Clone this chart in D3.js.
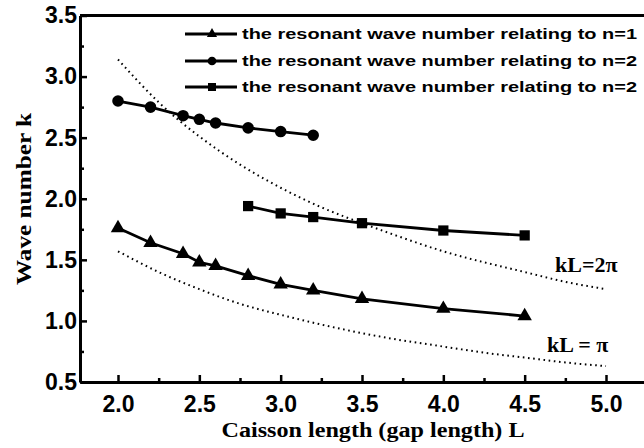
<!DOCTYPE html>
<html>
<head>
<meta charset="utf-8">
<script src="https://cdn.jsdelivr.net/npm/d3@7"></script>
<style>
  body { margin: 0; background: #fff; }
</style>
</head>
<body>
<div id="chart"></div>
<script>
// data
var lenN1 = [2.0, 2.2, 2.4, 2.5, 2.6, 2.8, 3.0, 3.2, 3.5, 4.0, 4.5];
var kN1   = [1.76, 1.64, 1.55, 1.48, 1.45, 1.37, 1.30, 1.25, 1.18, 1.10, 1.04];

var lenN2a = [2.0, 2.2, 2.4, 2.5, 2.6, 2.8, 3.0, 3.2];
var kN2a   = [2.80, 2.75, 2.68, 2.65, 2.62, 2.58, 2.55, 2.52];

var lenN2b = [2.8, 3.0, 3.2, 3.5, 4.0, 4.5];
var kN2b   = [1.94, 1.88, 1.85, 1.80, 1.74, 1.70];

// reference curves kL = 2pi and kL = pi
var lenRef = [2.0, 2.25, 2.5, 2.75, 3.0, 3.25, 3.5, 3.75, 4.0, 4.25, 4.5, 4.75, 5.0];
var k2pi   = [3.14, 2.79, 2.51, 2.28, 2.09, 1.93, 1.80, 1.68, 1.57, 1.48, 1.40, 1.32, 1.26];
var kpi    = [1.57, 1.40, 1.26, 1.14, 1.05, 0.97, 0.90, 0.84, 0.79, 0.74, 0.70, 0.66, 0.63];

var xTicks = [2.0, 2.5, 3.0, 3.5, 4.0, 4.5, 5.0];
var xMinor = [2.25, 2.75, 3.25, 3.75, 4.25, 4.75];
var yTicks = [0.5, 1.0, 1.5, 2.0, 2.5, 3.0, 3.5];
var yMinor = [0.75, 1.25, 1.75, 2.25, 2.75, 3.25];

var legendLabels = [
  "the resonant wave number relating to n=1",
  "the resonant wave number relating to n=2",
  "the resonant wave number relating to n=2"
];

var width = 644, height = 448;
var margin = {left: 80, top: 15.5, bottom: 382, right: 644};

var svg = d3.select("#chart")
  .append("svg")
    .attr("width", width)
    .attr("height", height);

var x = d3.scaleLinear().domain([1.7664, 5.2336]).range([margin.left, margin.right]);
var y = d3.scaleLinear().domain([0.5, 3.5]).range([margin.bottom, margin.top]);

var sans = "'Liberation Sans', Arial, sans-serif";
var serif = "'Liberation Serif', 'Times New Roman', serif";

// x axis
svg.append("g")
  .attr("transform", "translate(0," + margin.bottom + ")")
  .call(d3.axisBottom(x).tickValues(xTicks).tickSize(-7).tickSizeOuter(0)
        .tickPadding(14).tickFormat(d3.format(".1f")));
svg.append("g")
  .attr("transform", "translate(0," + margin.bottom + ")")
  .call(d3.axisBottom(x).tickValues(xMinor).tickSize(-4).tickSizeOuter(0).tickFormat(""))
  .select(".domain").remove();

// y axis
svg.append("g")
  .attr("transform", "translate(" + margin.left + ",0)")
  .call(d3.axisLeft(y).tickValues(yTicks).tickSize(-7).tickSizeOuter(0)
        .tickPadding(3).tickFormat(d3.format(".1f")));
svg.append("g")
  .attr("transform", "translate(" + margin.left + ",0)")
  .call(d3.axisLeft(y).tickValues(yMinor).tickSize(-4).tickSizeOuter(0).tickFormat(""))
  .select(".domain").remove();

svg.selectAll(".tick line").attr("stroke", "#000").attr("stroke-width", 2.5);
svg.selectAll(".domain").attr("stroke", "#000").attr("stroke-width", 3);
svg.selectAll(".tick text")
  .attr("font-family", sans)
  .attr("font-weight", "bold")
  .attr("font-size", "23px")
  .attr("fill", "#000");

// top border
svg.append("line")
  .attr("x1", margin.left).attr("x2", margin.right)
  .attr("y1", margin.top).attr("y2", margin.top)
  .attr("stroke", "#000").attr("stroke-width", 3);

// dotted reference curves
var refLine = function(ks) {
  return d3.line()
    .x(function(d, i) { return x(lenRef[i]); })
    .y(function(d) { return y(d); })
    .curve(d3.curveNatural)(ks);
};
[k2pi, kpi].forEach(function(ks) {
  svg.append("path")
    .attr("d", refLine(ks))
    .attr("fill", "none")
    .attr("stroke", "#000")
    .attr("stroke-width", 2)
    .attr("stroke-dasharray", "1.6,3.6");
});

// data series
var series = [
  {xs: lenN1, ks: kN1, sym: d3.symbolTriangle, size: 90, lsize: 45},
  {xs: lenN2a, ks: kN2a, sym: d3.symbolCircle, size: 105, lsize: 60},
  {xs: lenN2b, ks: kN2b, sym: d3.symbolSquare, size: 105, lsize: 64}
];

series.forEach(function(s) {
  var pts = s.xs.map(function(v, i) { return [v, s.ks[i]]; });
  svg.append("path")
    .attr("d", d3.line().x(function(d) { return x(d[0]); }).y(function(d) { return y(d[1]); })(pts))
    .attr("fill", "none")
    .attr("stroke", "#000")
    .attr("stroke-width", 2.8);
  svg.selectAll(null)
    .data(pts)
    .enter()
    .append("path")
      .attr("transform", function(d) { return "translate(" + x(d[0]) + "," + y(d[1]) + ")"; })
      .attr("d", d3.symbol().type(s.sym).size(s.size))
      .attr("fill", "#000");
});

// legend
var legend = svg.append("g");
var rowY = [34, 61, 87];
series.forEach(function(s, i) {
  legend.append("line")
    .attr("x1", 185).attr("x2", 237)
    .attr("y1", rowY[i]).attr("y2", rowY[i])
    .attr("stroke", "#000").attr("stroke-width", 2.8);
  legend.append("path")
    .attr("transform", "translate(212," + rowY[i] + ")")
    .attr("d", d3.symbol().type(s.sym).size(s.lsize))
    .attr("fill", "#000");
  legend.append("text")
    .attr("x", 242)
    .attr("y", rowY[i] + 5)
    .attr("textLength", 395)
    .attr("lengthAdjust", "spacingAndGlyphs")
    .text(legendLabels[i])
    .attr("font-family", sans)
    .attr("font-weight", "bold")
    .attr("font-size", "15.5px")
    .attr("fill", "#000");
});

// curve labels
svg.append("text")
  .attr("x", 555).attr("y", 272)
  .text("kL=2\u03c0")
  .attr("font-family", serif).attr("font-weight", "bold")
  .attr("font-size", "22px").attr("fill", "#000");
svg.append("text")
  .attr("x", 547).attr("y", 352)
  .text("kL = \u03c0")
  .attr("font-family", serif).attr("font-weight", "bold")
  .attr("font-size", "22px").attr("fill", "#000");

// axis titles
svg.append("text")
  .attr("x", 373).attr("y", 437)
  .attr("text-anchor", "middle")
  .attr("textLength", 303)
  .attr("lengthAdjust", "spacingAndGlyphs")
  .text("Caisson length (gap length) L")
  .attr("font-family", serif).attr("font-weight", "bold")
  .attr("font-size", "20px").attr("fill", "#000");

svg.append("text")
  .attr("transform", "translate(31,199) rotate(-90)")
  .attr("text-anchor", "middle")
  .attr("textLength", 172)
  .attr("lengthAdjust", "spacingAndGlyphs")
  .text("Wave number k")
  .attr("font-family", serif).attr("font-weight", "bold")
  .attr("font-size", "20px").attr("fill", "#000");
</script>
</body>
</html>
